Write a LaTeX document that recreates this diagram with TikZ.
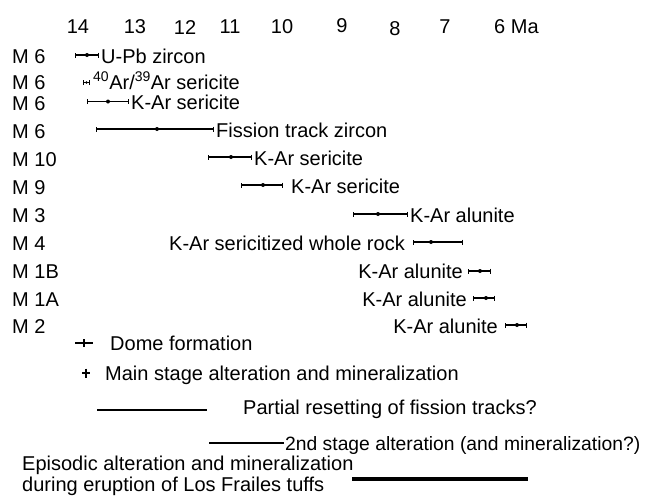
\documentclass[tikz,border=0pt]{standalone}
\usepackage{fontspec}
\setmainfont{Liberation Sans}
\usetikzlibrary{arrows.meta}
\begin{document}
\begin{tikzpicture}[x=1pt,y=-1pt,
  txt/.style={anchor=base west,inner sep=0pt,yshift=-7pt,font=\fontsize{20}{20}\selectfont},
  txte/.style={txt,anchor=base east},
  axl/.style={txt,anchor=base},
  ebar/.style={line width=1.1pt,{Bar[width=5pt,line width=1.1pt]}-{Bar[width=5pt,line width=1.1pt]}},
  dotm/.style={fill=black},
  thickline/.style={line width=2.8pt},
  heavyline/.style={line width=4pt}]
\useasboundingbox (0,0) rectangle (647,499);
% axis
\node[axl] (t14) at (78,26) {14};
\node[axl] (t13) at (135,26) {13};
\node[axl] (t12) at (185,27) {12};
\node[axl] (t11) at (230,26) {11};
\node[axl] (t10) at (282,26) {10};
\node[axl] (t9) at (342,25) {9};
\node[axl] (t8) at (395,28) {8};
\node[axl] (t7) at (445,26) {7};
\node[txt] (t6) at (494,26) {6 Ma};
% row labels
\node[txt] (m1) at (12,56) {M 6};
\node[txt] (m2) at (12,82) {M 6};
\node[txt] (m3) at (12,103) {M 6};
\node[txt] (m4) at (12,131) {M 6};
\node[txt] (m5) at (12,159) {M 10};
\node[txt] (m6) at (12,187) {M 9};
\node[txt] (m7) at (12,215) {M 3};
\node[txt] (m8) at (12,243) {M 4};
\node[txt] (m9) at (12,271) {M 1B};
\node[txt] (m10) at (12,299) {M 1A};
\node[txt] (m11) at (12,326) {M 2};
% row 1
\coordinate (a1) at (75,55); \coordinate (b1) at (99,55); \coordinate (c1) at (87,55);
\draw[ebar] (a1) -- (b1); \fill[dotm] (c1) circle (2);
\node[txt] (l1) at (101,56) {U-Pb zircon};
% row 2
\coordinate (a2) at (83,82.5); \coordinate (b2) at (90,82.5); \coordinate (c2) at (86.5,82.5);
\draw[ebar] (a2) -- (b2); \fill[dotm] (c2) circle (1.4);
\node[txt] (l2) at (93,82.5) {\textsuperscript{40}Ar/\textsuperscript{39}Ar sericite};
% row 3
\coordinate (a3) at (87,101.5); \coordinate (b3) at (129,101.5); \coordinate (c3) at (108,101.5);
\draw[ebar] (a3) -- (b3); \fill[dotm] (c3) circle (2);
\node[txt] (l3) at (131,102) {K-Ar sericite};
% row 4
\coordinate (a4) at (96,129); \coordinate (b4) at (214,129); \coordinate (c4) at (157,129);
\draw[ebar] (a4) -- (b4); \fill[dotm] (c4) circle (2);
\node[txt] (l4) at (216,130) {Fission track zircon};
% row 5
\coordinate (a5) at (208,157); \coordinate (b5) at (252,157); \coordinate (c5) at (231,157);
\draw[ebar] (a5) -- (b5); \fill[dotm] (c5) circle (2);
\node[txt] (l5) at (254,158) {K-Ar sericite};
% row 6
\coordinate (a6) at (241,185); \coordinate (b6) at (283,185); \coordinate (c6) at (263,185);
\draw[ebar] (a6) -- (b6); \fill[dotm] (c6) circle (2);
\node[txt] (l6) at (291,186) {K-Ar sericite};
% row 7
\coordinate (a7) at (353,214); \coordinate (b7) at (408,214); \coordinate (c7) at (378,214);
\draw[ebar] (a7) -- (b7); \fill[dotm] (c7) circle (2);
\node[txt] (l7) at (410,215) {K-Ar alunite};
% row 8
\coordinate (a8) at (413,242); \coordinate (b8) at (463,242); \coordinate (c8) at (431,242);
\draw[ebar] (a8) -- (b8); \fill[dotm] (c8) circle (2);
\node[txte] (l8) at (405,243) {K-Ar sericitized whole rock};
% row 9
\coordinate (a9) at (468,271); \coordinate (b9) at (491,271); \coordinate (c9) at (480,271);
\draw[ebar] (a9) -- (b9); \fill[dotm] (c9) circle (2);
\node[txte] (l9) at (463,271) {K-Ar alunite};
% row 10
\coordinate (a10) at (473,298); \coordinate (b10) at (495,298); \coordinate (c10) at (486,298);
\draw[ebar] (a10) -- (b10); \fill[dotm] (c10) circle (2);
\node[txte] (l10) at (467,299) {K-Ar alunite};
% row 11
\coordinate (a11) at (505,325); \coordinate (b11) at (527,325); \coordinate (c11) at (517,325);
\draw[ebar] (a11) -- (b11); \fill[dotm] (c11) circle (2);
\node[txte] (l11) at (498,326) {K-Ar alunite};
% legend
\coordinate (d1) at (75,343); \coordinate (d2) at (93,343);
\coordinate (d3) at (84,339); \coordinate (d4) at (84,347);
\draw[line width=2.4pt] (d1) -- (d2);
\draw[line width=1.3pt] (d3) -- (d4);
\node[txt] (ld) at (110,343) {Dome formation};
\coordinate (e1) at (82,373); \coordinate (e2) at (90,373);
\coordinate (e3) at (86,368.5); \coordinate (e4) at (86,378);
\draw[line width=2.4pt] (e1) -- (e2);
\draw[line width=1.3pt] (e3) -- (e4);
\node[txt] (le) at (105,373) {Main stage alteration and mineralization};
\coordinate (p1) at (97,410); \coordinate (p2) at (207,410);
\draw[thickline] (p1) -- (p2);
\node[txt] (lp) at (243,407) {Partial resetting of fission tracks?};
\coordinate (s1) at (209,443); \coordinate (s2) at (284,443);
\draw[thickline] (s1) -- (s2);
\node[txt,font=\fontsize{19.3}{20}\selectfont] (ls) at (285,443) {2nd stage alteration (and mineralization?)};
\coordinate (q1) at (352,479); \coordinate (q2) at (528,479);
\draw[heavyline] (q1) -- (q2);
\node[txt] (lq1) at (22,463) {Episodic alteration and mineralization};
\node[txt] (lq2) at (22,484) {during eruption of Los Frailes tuffs};
\end{tikzpicture}
\end{document}
